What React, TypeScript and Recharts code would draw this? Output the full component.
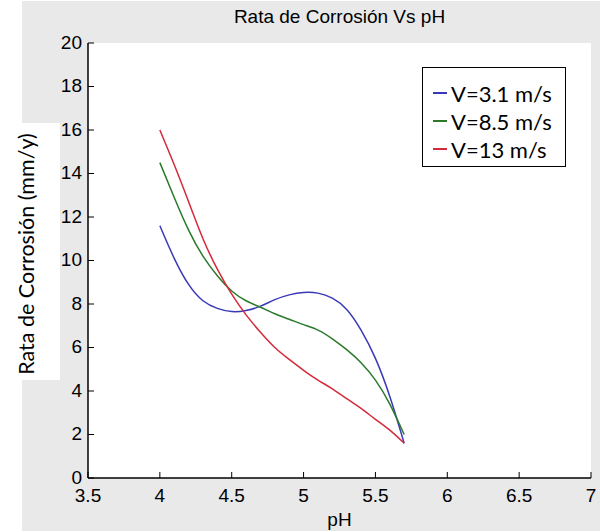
import { LineChart, Line, XAxis, YAxis, CartesianGrid, Legend } from "recharts";

// pH sample points
const phValues = [4.0, 4.1, 4.2, 4.3, 4.4, 4.5, 4.6, 4.7, 4.8, 4.9, 5.0, 5.1, 5.2, 5.3, 5.4, 5.5, 5.6, 5.7];

// corrosion rate (mm/y) for each velocity
const rateV31 = [11.6, 10.1, 8.9, 8.15, 7.8, 7.65, 7.7, 7.9, 8.2, 8.42, 8.53, 8.5, 8.27, 7.75, 6.8, 5.5, 3.75, 1.6];
const rateV85 = [14.5, 12.9, 11.4, 10.2, 9.3, 8.6, 8.15, 7.85, 7.55, 7.3, 7.05, 6.8, 6.4, 5.9, 5.3, 4.5, 3.4, 2.0];
const rateV13 = [16.0, 14.4, 12.7, 11.0, 9.6, 8.45, 7.5, 6.7, 6.0, 5.45, 4.95, 4.5, 4.1, 3.65, 3.2, 2.7, 2.2, 1.6];

const seriesNames = ["V=3.1 m/s", "V=8.5 m/s", "V=13 m/s"];
const seriesColors = ["#3a3ab8", "#2a7a2a", "#d42a3a"];
const xTicks = [3.5, 4, 4.5, 5, 5.5, 6, 6.5, 7];
const yTicks = [0, 2, 4, 6, 8, 10, 12, 14, 16, 18, 20];

const data = phValues.map((ph, i) => ({
  ph,
  v31: rateV31[i],
  v85: rateV85[i],
  v13: rateV13[i],
}));

const TICK = 6;
const axisFont = "'Liberation Sans', Arial, sans-serif";
const labelFont = "Lato, 'Open Sans', sans-serif";

function BottomTick(props: any) {
  const { x, y, payload } = props;
  return (
    <g>
      <line x1={x} y1={y} x2={x} y2={y - TICK} stroke="#000" />
      <text x={x} y={y + 24} textAnchor="middle" fontSize={19} fontFamily={axisFont} fill="#000">
        {payload.value}
      </text>
    </g>
  );
}

function TopTick(props: any) {
  const { x, y } = props;
  return <line x1={x} y1={y} x2={x} y2={y + TICK} stroke="#000" />;
}

function LeftTick(props: any) {
  const { x, y, payload } = props;
  return (
    <g>
      <line x1={x} y1={y} x2={x + TICK} y2={y} stroke="#000" />
      <text x={x - 6} y={y} dy="0.3em" textAnchor="end" fontSize={19} fontFamily={axisFont} fill="#000">
        {payload.value}
      </text>
    </g>
  );
}

function RightTick(props: any) {
  const { x, y } = props;
  return <line x1={x} y1={y} x2={x - TICK} y2={y} stroke="#000" />;
}

function LegendBox(props: any) {
  const items = [...(props.payload || [])].sort(
    (a: any, b: any) => seriesNames.indexOf(a.value) - seriesNames.indexOf(b.value)
  );
  return (
    <div
      style={{
        border: "1.5px solid #000",
        background: "#fff",
        width: 144,
        height: 100,
        boxSizing: "border-box",
        padding: "11px 0 0 10px",
        fontFamily: labelFont,
        fontSize: 22,
        color: "#000",
      }}
    >
      {items.map((p: any) => (
        <div key={p.value} style={{ display: "flex", alignItems: "center", height: 28, whiteSpace: "nowrap" }}>
          <span
            style={{
              display: "inline-block",
              width: 14,
              height: 2,
              background: seriesColors[seriesNames.indexOf(p.value)] || p.color,
              marginRight: 4,
            }}
          />
          <span>{p.value}</span>
        </div>
      ))}
    </div>
  );
}

export default function App() {
  return (
    <div style={{ position: "absolute", left: 0, top: 0, width: 600, height: 532, background: "#fff" }}>
      <div style={{ position: "absolute", left: 22, top: 1, width: 578, height: 530, background: "#e9e9e9" }} />
      <div style={{ position: "absolute", left: 22, top: 123, width: 38, height: 257, background: "#fff" }} />
      <div
        style={{
          position: "absolute",
          left: 88,
          width: 503,
          top: 6,
          textAlign: "center",
          fontFamily: axisFont,
          fontSize: 19,
          color: "#000",
        }}
      >
        Rata de Corrosión Vs pH
      </div>
      <div
        style={{
          position: "absolute",
          left: 88,
          width: 503,
          top: 509,
          textAlign: "center",
          fontFamily: axisFont,
          fontSize: 19,
          color: "#000",
        }}
      >
        pH
      </div>
      <div
        style={{
          position: "absolute",
          left: 26,
          top: 254,
          transform: "translate(-50%, -50%) rotate(-90deg)",
          whiteSpace: "nowrap",
          fontFamily: labelFont,
          fontSize: 21.5,
          color: "#000",
        }}
      >
        Rata de Corrosión (mm/y)
      </div>
      <div style={{ position: "absolute", left: 0, top: 0 }}>
        <LineChart
          width={600}
          height={532}
          data={data}
          margin={{ top: 43, right: 9, left: 28, bottom: 24 }}
        >
          <CartesianGrid fill="#fff" horizontal={false} vertical={false} />
          <XAxis
            dataKey="ph"
            type="number"
            domain={[3.5, 7]}
            ticks={xTicks}
            height={30}
            tickLine={false}
            tickSize={0}
            tickMargin={0}
            tick={<BottomTick />}
            axisLine={{ stroke: "#000", strokeWidth: 1.5 }}
            allowDataOverflow
          />
          <XAxis
            xAxisId="top"
            orientation="top"
            dataKey="ph"
            type="number"
            domain={[3.5, 7]}
            ticks={xTicks}
            height={0}
            tickLine={false}
            tickSize={0}
            tickMargin={0}
            tick={<TopTick />}
            axisLine={{ stroke: "#000", strokeWidth: 1.5 }}
            allowDataOverflow
          />
          <YAxis
            type="number"
            domain={[0, 20]}
            ticks={yTicks}
            width={60}
            tickLine={false}
            tickSize={0}
            tickMargin={0}
            tick={<LeftTick />}
            axisLine={{ stroke: "#000", strokeWidth: 1.5 }}
            allowDataOverflow
          />
          <YAxis
            yAxisId="right"
            orientation="right"
            type="number"
            domain={[0, 20]}
            ticks={yTicks}
            width={0}
            tickLine={false}
            tickSize={0}
            tickMargin={0}
            tick={<RightTick />}
            axisLine={{ stroke: "#000", strokeWidth: 1.5 }}
            allowDataOverflow
          />
          <Legend
            layout="vertical"
            align="center"
            verticalAlign="middle"
            content={<LegendBox />}
            wrapperStyle={{ position: "absolute", left: 422, top: 67, width: 144, height: 100 }}
          />
          <Line
            type="natural"
            dataKey="v31"
            name={seriesNames[0]}
            stroke={seriesColors[0]}
            strokeWidth={1.5}
            dot={false}
            isAnimationActive={false}
          />
          <Line
            type="natural"
            dataKey="v85"
            name={seriesNames[1]}
            stroke={seriesColors[1]}
            strokeWidth={1.5}
            dot={false}
            isAnimationActive={false}
          />
          <Line
            type="natural"
            dataKey="v13"
            name={seriesNames[2]}
            stroke={seriesColors[2]}
            strokeWidth={1.5}
            dot={false}
            isAnimationActive={false}
          />
        </LineChart>
      </div>
    </div>
  );
}
